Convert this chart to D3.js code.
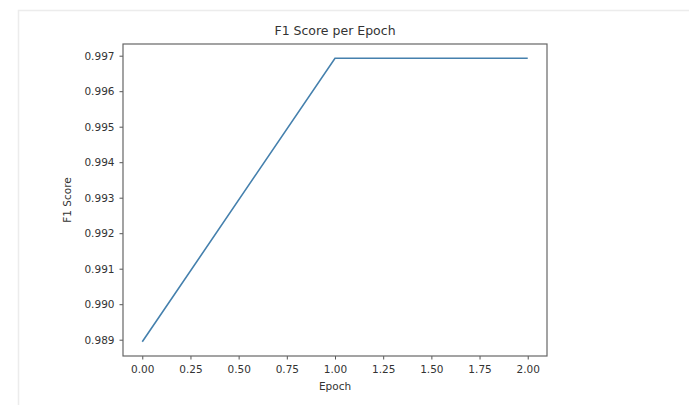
<!DOCTYPE html>
<html>
<head>
<meta charset="utf-8">
<script src="https://cdn.jsdelivr.net/npm/d3@7"></script>
<style>
  body { margin: 0; background: #fff; }
  svg text { font-family: "DejaVu Sans", sans-serif; fill: #333; }
</style>
</head>
<body>
<svg id="chart" width="689" height="405"></svg>
<script>
var epochs = [0, 1, 2];
var f1Scores = [0.98894, 0.99693, 0.99693];
var yTicks = [0.989, 0.990, 0.991, 0.992, 0.993, 0.994, 0.995, 0.996, 0.997];
var xTicks = [0, 0.25, 0.5, 0.75, 1, 1.25, 1.5, 1.75, 2];

var svg = d3.select("#chart");

var plotL = 123, plotR = 547, plotT = 44, plotB = 356;

// light page frame
svg.append("path")
  .attr("d", "M18.5,405V10.5H689")
  .attr("fill", "none")
  .attr("stroke", "#ececec")
  .attr("stroke-width", 1.5);

var yMin = d3.min(f1Scores), yMax = d3.max(f1Scores);
var pad = (yMax - yMin) * 0.05;
var x = d3.scaleLinear().domain([-0.1, 2.1]).range([plotL, plotR]);
var y = d3.scaleLinear().domain([yMin - pad, yMax + pad]).range([plotB, plotT]);

var xAxis = svg.append("g")
  .attr("transform", "translate(0," + plotB + ")")
  .call(d3.axisBottom(x).tickValues(xTicks).tickFormat(d3.format(".2f")).tickSize(3.5).tickPadding(6));

var yAxis = svg.append("g")
  .attr("transform", "translate(" + plotL + ",0)")
  .call(d3.axisLeft(y).tickValues(yTicks).tickFormat(d3.format(".3f")).tickSize(3.5).tickPadding(5));

[xAxis, yAxis].forEach(function(a) {
  a.select(".domain").remove();
  a.selectAll("line").attr("stroke", "#555");
  a.selectAll("text").attr("font-size", "10.5px").attr("fill", "#3a3a3a").attr("font-family", "DejaVu Sans, sans-serif");
});

// plot frame
svg.append("rect")
  .attr("x", plotL).attr("y", plotT)
  .attr("width", plotR - plotL).attr("height", plotB - plotT)
  .attr("fill", "none")
  .attr("stroke", "#666")
  .attr("stroke-width", 1.2);

var line = d3.line()
  .x(function(d, i) { return x(epochs[i]); })
  .y(function(d) { return y(d); });

svg.append("path")
  .datum(f1Scores)
  .attr("d", line)
  .attr("fill", "none")
  .attr("stroke", "#4580ad")
  .attr("stroke-width", 1.6);

svg.append("text")
  .attr("x", (plotL + plotR) / 2).attr("y", 35)
  .attr("text-anchor", "middle")
  .attr("font-size", "12.5px")
  .text("F1 Score per Epoch");

svg.append("text")
  .attr("x", (plotL + plotR) / 2).attr("y", 390)
  .attr("text-anchor", "middle")
  .attr("font-size", "10.5px")
  .text("Epoch");

svg.append("text")
  .attr("transform", "translate(71," + (plotT + plotB) / 2 + ") rotate(-90)")
  .attr("text-anchor", "middle")
  .attr("font-size", "10.5px")
  .text("F1 Score");
</script>
</body>
</html>
